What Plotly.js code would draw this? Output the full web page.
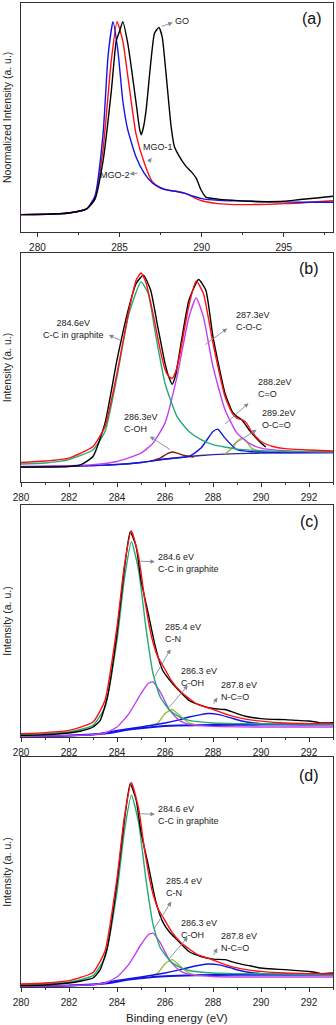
<!DOCTYPE html>
<html>
<head>
<meta charset="utf-8">
<script src="https://cdn.plot.ly/plotly-3.0.1.min.js"></script>
<style>
  body { margin: 0; background: #fff; }
  #myDiv { width: 336px; height: 1025px; }
</style>
</head>
<body>
<div id="myDiv"></div>
<script>
// ---- panel (a): normalized C1s spectra ----
var aGoX = [279, 281, 282, 283, 283.5, 284, 284.5, 284.8, 285, 285.2, 285.5, 285.71, 286.01, 286.21, 286.32, 286.45, 286.62, 286.92, 287.13, 287.4, 287.6, 287.83, 288.14, 288.34, 288.64, 289.05, 289.35, 289.66, 289.96, 290.26, 291, 292, 293, 294, 295, 296, 297, 298];
var aGoY = [0, 0.003, 0.01, 0.03, 0.08, 0.28, 0.64, 0.9, 0.95, 1.0, 0.888, 0.767, 0.578, 0.45, 0.414, 0.45, 0.543, 0.802, 0.94, 0.97, 0.92, 0.733, 0.457, 0.353, 0.302, 0.25, 0.224, 0.19, 0.129, 0.091, 0.08, 0.074, 0.069, 0.067, 0.069, 0.078, 0.086, 0.095];
var aMgo1X = [279, 281, 282, 283, 283.5, 284, 284.5, 284.85, 285.2, 285.5, 286, 286.5, 287, 287.5, 288, 288.5, 289, 289.5, 290, 291, 292, 293, 294, 295, 296, 297, 298];
var aMgo1Y = [0, 0.003, 0.01, 0.03, 0.08, 0.34, 0.8, 1.0, 0.9, 0.72, 0.42, 0.27, 0.17, 0.14, 0.126, 0.12, 0.11, 0.09, 0.072, 0.057, 0.052, 0.052, 0.053, 0.057, 0.06, 0.067, 0.072];
var aMgo2X = [279, 281, 282, 283, 283.5, 284, 284.3, 284.6, 284.9, 285.2, 285.5, 286, 286.5, 287, 287.5, 288, 288.5, 289, 289.5, 290, 291, 292, 293, 294, 295, 296, 297, 298];
var aMgo2Y = [0, 0.003, 0.01, 0.03, 0.095, 0.42, 0.82, 1.0, 0.85, 0.59, 0.44, 0.3, 0.215, 0.164, 0.138, 0.126, 0.12, 0.11, 0.095, 0.083, 0.074, 0.071, 0.069, 0.067, 0.066, 0.064, 0.064, 0.064];

// ---- panel (b): GO fit ----
var bExpX = [280, 281, 282, 282.5, 283, 283.5, 284, 284.5, 284.8, 285.1, 285.4, 285.7, 286, 286.15, 286.3, 286.45, 286.6, 287, 287.4, 287.7, 288, 288.5, 288.8, 289, 289.2, 289.5, 289.8, 290, 290.2];
var bExpY = [0.075, 0.075, 0.078, 0.087, 0.128, 0.295, 0.612, 0.878, 0.995, 1.037, 0.962, 0.778, 0.595, 0.53, 0.49, 0.54, 0.645, 0.912, 1.015, 0.962, 0.728, 0.445, 0.353, 0.328, 0.312, 0.262, 0.22, 0.195, 0.175];
var bFitX = [280, 281, 282, 283, 283.5, 284, 284.5, 284.8, 285, 285.2, 285.5, 285.8, 286, 286.15, 286.3, 286.45, 286.6, 287, 287.3, 287.6, 288, 288.5, 288.8, 289, 289.2, 289.4, 289.6, 290, 290.5, 291, 292, 293];
var bFitY = [0.098, 0.105, 0.12, 0.178, 0.278, 0.545, 0.862, 1.012, 1.048, 1.003, 0.845, 0.662, 0.565, 0.53, 0.52, 0.555, 0.628, 0.887, 1.008, 0.945, 0.695, 0.428, 0.345, 0.32, 0.312, 0.295, 0.253, 0.203, 0.178, 0.167, 0.16, 0.155];
var bCcX = [280, 281, 282, 283, 283.5, 284, 284.5, 285, 285.3, 285.6, 286, 286.5, 287, 287.5, 288, 289, 290, 291, 292, 293];
var bCcY = [0.09, 0.095, 0.112, 0.162, 0.253, 0.528, 0.845, 1.003, 0.945, 0.745, 0.495, 0.328, 0.253, 0.212, 0.187, 0.165, 0.157, 0.153, 0.152, 0.15];
var bCocX = [280, 282, 283, 284, 285, 285.5, 286, 286.5, 287, 287.3, 287.6, 288, 288.5, 289, 289.5, 290, 291, 292, 293];
var bCocY = [0.078, 0.082, 0.087, 0.103, 0.145, 0.195, 0.295, 0.528, 0.828, 0.923, 0.828, 0.578, 0.362, 0.245, 0.195, 0.17, 0.157, 0.153, 0.152];
var bCoX = [280, 283, 285, 286, 287, 287.5, 288, 288.2, 288.5, 289, 289.5, 290, 291, 293];
var bCoY = [0.075, 0.082, 0.098, 0.115, 0.128, 0.17, 0.253, 0.265, 0.22, 0.162, 0.153, 0.15, 0.148, 0.148];
var bCohX = [285.4, 285.8, 286.1, 286.3, 286.5, 286.8, 287.2];
var bCohY = [0.105, 0.12, 0.142, 0.15, 0.145, 0.133, 0.125];
var bOcoX = [288.5, 288.8, 289, 289.2, 289.4, 289.6, 290];
var bOcoY = [0.14, 0.17, 0.203, 0.22, 0.203, 0.17, 0.147];
var bBgX = [280, 283, 284, 285, 286, 287, 288, 289, 290, 293];
var bBgY = [0.075, 0.082, 0.087, 0.098, 0.115, 0.128, 0.137, 0.142, 0.145, 0.148];

// ---- panel (c): MGO-1 fit ----
var cExpX = [280, 281, 282, 282.5, 283, 283.3, 283.6, 284, 284.3, 284.55, 284.8, 285, 285.3, 285.6, 285.9, 286.2, 286.5, 287, 287.5, 288, 288.5, 288.7, 289, 289.5, 290, 290.5, 291, 291.5, 292, 292.3, 292.5, 293];
var cExpY = [0.008, 0.012, 0.02, 0.03, 0.05, 0.083, 0.2, 0.517, 0.833, 1.025, 0.95, 0.783, 0.617, 0.45, 0.333, 0.283, 0.242, 0.183, 0.158, 0.142, 0.137, 0.13, 0.117, 0.1, 0.092, 0.088, 0.087, 0.083, 0.08, 0.075, 0.07, 0.072];
var cFitX = [280, 281, 282, 283, 283.5, 284, 284.3, 284.6, 284.9, 285.16, 285.44, 285.7, 285.98, 286.26, 286.67, 287.36, 287.9, 288.7, 289.4, 290.1, 291, 292, 293];
var cFitY = [0.017, 0.022, 0.033, 0.075, 0.183, 0.55, 0.85, 1.03, 0.9, 0.683, 0.5, 0.4, 0.342, 0.283, 0.225, 0.163, 0.142, 0.108, 0.088, 0.078, 0.07, 0.067, 0.067];
var cCcX = [280, 281, 282, 283, 283.5, 284, 284.3, 284.6, 284.9, 285.2, 285.5, 285.8, 286.2, 286.6, 287, 288, 289, 293];
var cCcY = [0.013, 0.017, 0.025, 0.058, 0.15, 0.483, 0.783, 0.975, 0.833, 0.55, 0.317, 0.2, 0.133, 0.1, 0.083, 0.07, 0.067, 0.063];
var cCnX = [280, 282, 283, 283.5, 284, 284.5, 285, 285.3, 285.5, 285.8, 286.2, 286.6, 287, 288, 290, 293];
var cCnY = [0.003, 0.007, 0.012, 0.02, 0.05, 0.117, 0.217, 0.267, 0.275, 0.225, 0.133, 0.083, 0.063, 0.053, 0.05, 0.05];
var cCohX = [285.3, 285.7, 286, 286.3, 286.6, 287, 287.4];
var cCohY = [0.053, 0.07, 0.117, 0.137, 0.108, 0.07, 0.057];
var cNcoX = [280, 282, 283, 284, 285, 286, 286.5, 287, 287.5, 287.8, 288.2, 288.7, 289.2, 290, 291, 293];
var cNcoY = [0.003, 0.007, 0.012, 0.033, 0.05, 0.07, 0.083, 0.1, 0.112, 0.117, 0.113, 0.097, 0.08, 0.067, 0.063, 0.063];
var cBgX = [280, 282, 283.5, 284.5, 285.5, 286.5, 288, 290, 293];
var cBgY = [0.003, 0.007, 0.017, 0.037, 0.05, 0.057, 0.06, 0.062, 0.063];

// ---- panel (d): MGO-2 fit ----
var dExpX = [280, 281, 282, 282.5, 283, 283.3, 283.6, 284, 284.3, 284.55, 284.8, 285, 285.3, 285.6, 285.9, 286.2, 286.5, 287, 287.5, 288, 288.5, 288.7, 289, 289.5, 290, 290.5, 291, 291.5, 292, 292.3, 292.5, 293];
var dExpY = [0.007, 0.01, 0.02, 0.03, 0.045, 0.087, 0.2, 0.52, 0.828, 1.02, 0.937, 0.778, 0.612, 0.437, 0.328, 0.273, 0.237, 0.178, 0.153, 0.14, 0.137, 0.13, 0.12, 0.107, 0.095, 0.09, 0.087, 0.082, 0.078, 0.073, 0.067, 0.07];
var dFitX = [280, 281, 282, 283, 283.5, 284, 284.3, 284.6, 284.9, 285.16, 285.44, 285.7, 285.98, 286.26, 286.67, 287.36, 287.9, 288.7, 289.4, 290.1, 291, 292, 293];
var dFitY = [0.015, 0.02, 0.032, 0.073, 0.18, 0.545, 0.845, 1.025, 0.895, 0.678, 0.495, 0.395, 0.337, 0.28, 0.222, 0.162, 0.14, 0.105, 0.087, 0.077, 0.07, 0.067, 0.065];
var dCcX = [280, 281, 282, 283, 283.5, 284, 284.3, 284.6, 284.9, 285.2, 285.5, 285.8, 286.2, 286.6, 287, 288, 289, 293];
var dCcY = [0.012, 0.016, 0.024, 0.057, 0.148, 0.478, 0.775, 0.962, 0.825, 0.545, 0.315, 0.198, 0.132, 0.1, 0.083, 0.07, 0.067, 0.063];
var dCnX = [280, 282, 283, 283.5, 284, 284.5, 285, 285.3, 285.5, 285.8, 286.2, 286.6, 287, 288, 290, 293];
var dCnY = [0.003, 0.007, 0.012, 0.02, 0.05, 0.115, 0.213, 0.262, 0.27, 0.222, 0.132, 0.083, 0.063, 0.053, 0.05, 0.05];
var dCohX = [285.3, 285.7, 286, 286.3, 286.6, 287, 287.4];
var dCohY = [0.053, 0.07, 0.117, 0.137, 0.108, 0.07, 0.057];
var dNcoX = [280, 282, 283, 284, 285, 286, 286.5, 287, 287.5, 287.8, 288.2, 288.7, 289.2, 290, 291, 293];
var dNcoY = [0.003, 0.007, 0.012, 0.033, 0.05, 0.07, 0.083, 0.098, 0.11, 0.115, 0.112, 0.097, 0.08, 0.067, 0.063, 0.063];
var dBgX = [280, 282, 283.5, 284.5, 285.5, 286.5, 288, 290, 293];
var dBgY = [0.003, 0.007, 0.017, 0.037, 0.05, 0.057, 0.06, 0.062, 0.063];

var BLACK = '#000000', RED = '#ff1010', BLUE = '#1414e6', GREEN = '#22aa77',
    PURPLE = '#c040f0', OLIVE = '#9ab83a', BROWN = '#7a1a1a', NAVY = '#2a2a9a';

function line(x, y, color, ax, width) {
  return {x: x, y: y, type: 'scatter', mode: 'lines',
          line: {color: color, width: width || 1.4, shape: 'spline', smoothing: 0.5},
          xaxis: 'x' + ax, yaxis: 'y' + ax, hoverinfo: 'skip'};
}

var data = [
  line(aMgo1X, aMgo1Y, RED, ''),
  line(aMgo2X, aMgo2Y, BLUE, ''),
  line(aGoX, aGoY, BLACK, ''),

  line(bBgX, bBgY, NAVY, '2'),
  line(bOcoX, bOcoY, OLIVE, '2'),
  line(bCohX, bCohY, BROWN, '2'),
  line(bCoX, bCoY, BLUE, '2'),
  line(bCocX, bCocY, PURPLE, '2'),
  line(bCcX, bCcY, GREEN, '2'),
  line(bExpX, bExpY, BLACK, '2'),
  line(bFitX, bFitY, RED, '2'),

  line(cBgX, cBgY, BLUE, '3', 2),
  line(cCohX, cCohY, OLIVE, '3'),
  line(cNcoX, cNcoY, BLUE, '3'),
  line(cCnX, cCnY, PURPLE, '3'),
  line(cCcX, cCcY, GREEN, '3'),
  line(cExpX, cExpY, BLACK, '3'),
  line(cFitX, cFitY, RED, '3'),

  line(dBgX, dBgY, BLUE, '4', 2),
  line(dCohX, dCohY, OLIVE, '4'),
  line(dNcoX, dNcoY, BLUE, '4'),
  line(dCnX, dCnY, PURPLE, '4'),
  line(dCcX, dCcY, GREEN, '4'),
  line(dExpX, dExpY, BLACK, '4'),
  line(dFitX, dFitY, RED, '4')
];

function xax(range, dtick, minor, anchor) {
  return {range: range, dtick: dtick, tick0: 280, ticks: 'outside', ticklen: 4, tickwidth: 1,
          tickcolor: '#333', minor: {ticks: 'outside', ticklen: 2, dtick: minor, tickcolor: '#333'},
          showline: true, mirror: true, linecolor: '#333', linewidth: 1,
          showgrid: false, zeroline: false, anchor: anchor, ticklabelstandoff: 2,
          tickfont: {size: 10, color: '#222'}};
}
function yax(range, domain, anchor, title) {
  return {range: range, domain: domain, anchor: anchor, showticklabels: false, ticks: '',
          showline: true, mirror: true, linecolor: '#333', linewidth: 1,
          showgrid: false, zeroline: false,
          title: {text: title, font: {size: 10.5, color: '#222'}, standoff: 6}};
}

function label(xref, yref, x, y, text, anchor) {
  return {xref: xref, yref: yref, x: x, y: y, text: text, showarrow: false,
          xanchor: anchor || 'left', align: anchor === 'center' ? 'center' : 'left',
          font: {size: 9, color: '#222'}};
}
function arrow(xref, yref, hx, hy, tx, ty) {
  return {xref: xref, yref: yref, x: hx, y: hy, axref: xref, ayref: yref, ax: tx, ay: ty,
          text: ' ', showarrow: true, arrowhead: 2, arrowsize: 1, arrowwidth: 0.9,
          arrowcolor: '#7d8a99', standoff: 0, startstandoff: 0};
}
function tag(xref, yref, x, y, text) {
  return {xref: xref, yref: yref, x: x, y: y, text: text, showarrow: false,
          xanchor: 'center', font: {size: 16, color: '#111'}};
}

var annotations = [
  tag('x', 'y', 296.74, 1.017, '(a)'),
  label('x', 'y', 288.8, 1.005, 'GO', 'center'),
  arrow('x', 'y', 288.24, 0.995, 287.39, 0.97),
  label('x', 'y', 287.35, 0.352, 'MGO-1', 'center'),
  arrow('x', 'y', 286.95, 0.295, 286.59, 0.248),
  label('x', 'y', 284.71, 0.207, 'MGO-2', 'center'),
  arrow('x', 'y', 285.62, 0.21, 286.29, 0.217),

  tag('x2', 'y2', 292.01, 1.07, '(b)'),
  label('x2', 'y2', 282.18, 0.767, '284.6eV<br>C-C in graphite', 'center'),
  arrow('x2', 'y2', 283.66, 0.737, 284.27, 0.703),
  label('x2', 'y2', 288.86, 0.808, '287.3eV<br>C-O-C'),
  arrow('x2', 'y2', 288.59, 0.77, 287.56, 0.678),
  label('x2', 'y2', 289.79, 0.473, '288.2eV<br>C=O'),
  arrow('x2', 'y2', 289.48, 0.395, 288.38, 0.278),
  label('x2', 'y2', 284.21, 0.295, '286.3eV<br>C-OH'),
  arrow('x2', 'y2', 285.37, 0.228, 286.33, 0.153),
  label('x2', 'y2', 289.96, 0.315, '289.2eV<br>O-C=O'),
  arrow('x2', 'y2', 289.82, 0.262, 288.71, 0.177),

  tag('x3', 'y3', 292.01, 1.075, '(c)'),
  label('x3', 'y3', 285.62, 0.87, '284.6 eV<br>C-C in graphite'),
  arrow('x3', 'y3', 285.58, 0.875, 284.86, 0.878),
  label('x3', 'y3', 285.92, 0.517, '285.4 eV<br>C-N'),
  arrow('x3', 'y3', 286.23, 0.438, 285.44, 0.275),
  label('x3', 'y3', 286.58, 0.3, '286.3 eV<br>C-OH'),
  arrow('x3', 'y3', 286.95, 0.258, 286.05, 0.13),
  label('x3', 'y3', 288.25, 0.23, '287.8 eV<br>N-C=O'),
  arrow('x3', 'y3', 288.18, 0.197, 287.9, 0.142),

  tag('x4', 'y4', 292.01, 1.062, '(d)'),
  label('x4', 'y4', 285.62, 0.862, '284.6 eV<br>C-C in graphite'),
  arrow('x4', 'y4', 285.58, 0.866, 284.86, 0.869),
  label('x4', 'y4', 285.95, 0.503, '285.4 eV<br>C-N'),
  arrow('x4', 'y4', 286.26, 0.428, 285.41, 0.267),
  label('x4', 'y4', 286.58, 0.292, '286.3 eV<br>C-OH'),
  arrow('x4', 'y4', 286.95, 0.25, 286.05, 0.125),
  label('x4', 'y4', 288.25, 0.225, '287.8 eV<br>N-C=O'),
  arrow('x4', 'y4', 288.18, 0.195, 287.9, 0.133),

  // x-axis title of the bottom panel
  {xref: 'paper', yref: 'paper', x: 0.5, y: -0.0315, yanchor: 'middle', showarrow: false,
   text: 'Binding energy (eV)', font: {size: 11.5, color: '#222'}}
];

var layout = {
  width: 336, height: 1025,
  margin: {l: 21, r: 3, t: 2, b: 38},
  paper_bgcolor: '#fff', plot_bgcolor: '#fff',
  showlegend: false,
  font: {family: 'Liberation Sans, Arial, sans-serif', color: '#222'},
  xaxis: xax([279, 298], 5, 2.5, 'y'),
  yaxis: yax([-0.09, 1.098], [0.7665, 0.9993], 'x', 'Noormalized Intensity (a. u.)'),
  xaxis2: xax([280, 293], 2, 1, 'y2'),
  yaxis2: yax([0, 1.148], [0.5127, 0.7452], 'x2', 'Intensity (a. u.)'),
  xaxis3: xax([280, 293], 2, 1, 'y3'),
  yaxis3: yax([0, 1.158], [0.2538, 0.4893], 'x3', 'Intensity (a. u.)'),
  xaxis4: xax([280, 293], 2, 1, 'y4'),
  yaxis4: yax([0, 1.153], [0, 0.2335], 'x4', 'Intensity (a. u.)'),
  annotations: annotations
};

Plotly.newPlot('myDiv', data, layout, {displayModeBar: false, staticPlot: true});
</script>
</body>
</html>
